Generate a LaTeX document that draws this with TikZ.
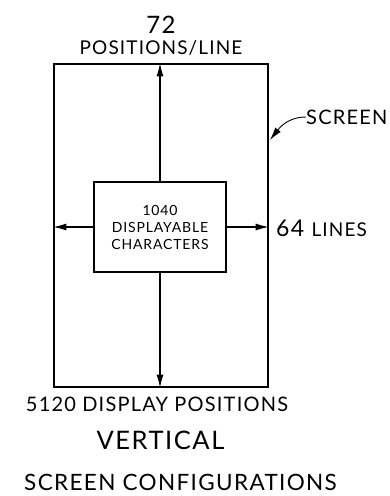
\documentclass[tikz,border=0pt]{standalone}
\usepackage{fontspec}
\setmainfont{Lato}[LetterSpace=6]
\usetikzlibrary{arrows.meta,positioning}
\begin{document}
\begin{tikzpicture}[x=1pt, y=-1pt, >={Latex[length=13pt,width=7pt]},
	box/.style={draw, line width=1.3pt, inner sep=0pt},
	lbl/.style={inner sep=0pt, font=\fontsize{19}{19}\selectfont}]
	\useasboundingbox (0,0) rectangle (389,496);
	% outer screen and the character block
	\node[box, minimum width=214pt, minimum height=323pt] (scr) at (161,225.5) {};
	\node[box, minimum width=132pt, minimum height=90pt, align=center,
		font=\fontsize{14}{17}\selectfont] (chars) at (160,227)
		{1040\\DISPLAYABLE\\CHARACTERS};
	\foreach \a in {west, east} {
			\draw[->, line width=1.1pt] (chars.\a) -- (chars.\a -| scr.\a);
		}
	\draw[->, line width=1.1pt] (chars.north) -- (chars.north |- scr.north);
	\draw[->, line width=1.1pt] (chars.south) -- (chars.south |- scr.south);
	% labels
	\node[lbl, font=\fontsize{24}{24}\selectfont] (num) at (161,25) {72};
	\node[lbl] (pos) at (161,48) {POSITIONS/LINE};
	\node[lbl, anchor=west, font=\fontsize{20}{20}\selectfont] (scrlbl) at (306,117) {SCREEN};
	\draw[->, line width=0.9pt] (scrlbl.west) .. controls (294,117) and (284,122) .. (270,140);
	\node[lbl, anchor=west] (lines) at (276,228) {\fontsize{23}{23}\selectfont 64 \fontsize{19}{19}\selectfont LINES};
	\node[lbl, font=\fontsize{20}{20}\selectfont] (disp) at (157,404) {5120 DISPLAY POSITIONS};
	\node[lbl, font=\fontsize{25.5}{25}\selectfont] (vert) at (160.5,440) {VERTICAL};
	\node[lbl, font=\fontsize{22.5}{22}\selectfont] (conf) at (180.5,482) {SCREEN CONFIGURATIONS};
\end{tikzpicture}
\end{document}
